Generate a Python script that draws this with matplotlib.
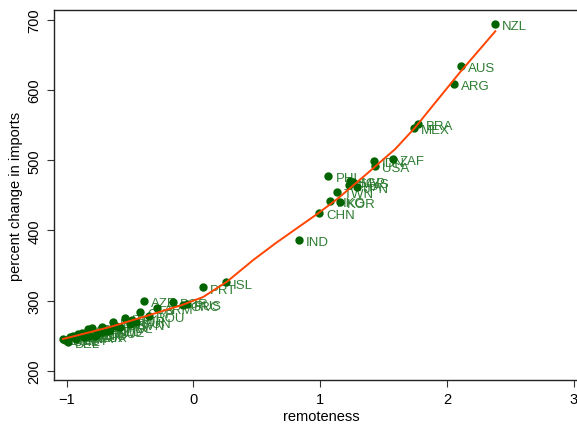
import matplotlib
matplotlib.use("Agg")
import matplotlib.pyplot as plt

plt.rcParams['font.family'] = ['Liberation Sans', 'DejaVu Sans']

# country points: remoteness vs percent change in imports
countries = ['NZL', 'AUS', 'ARG', 'BRA', 'MEX', 'IDN', 'ZAF', 'USA', 'PHL',
             'SGP', 'MYS', 'THA', 'JPN', 'TWN', 'HKG', 'KOR', 'CHN', 'IND',
             'ISL', 'PRT', 'AZE', 'BGR', 'GRC', 'RUS', 'ARM',
             'CYP', 'TUR', 'ITA', 'ESP', 'FIN', 'IRL', 'GBR', 'NOR', 'ROU',
             'HUN', 'POL', 'SWE', 'LTU', 'LVA', 'EST', 'HRV', 'SVN',
             'FRA', 'CHE', 'DNK', 'AUT', 'CZE', 'SVK', 'DEU', 'NLD', 'LUX', 'BEL']
remote = [2.381, 2.112, 2.057, 1.775, 1.741, 1.428, 1.573, 1.433, 1.065,
          1.236, 1.262, 1.223, 1.289, 1.131, 1.078, 1.157, 0.992, 0.834,
          0.258, 0.076, -0.390, -0.163, -0.080, -0.053, -0.290,
          -0.421, -0.487, -0.540, -0.632, -0.724, -0.803, -0.830, -0.908, -0.35,
          -0.45, -0.58, -0.68, -0.76, -0.86, -0.93, -0.61, -0.50,
          -0.974, -1.013, -1.032, -0.95, -0.88, -0.82, -0.72, -0.66, -0.78, -0.99]
imports = [694.7, 634.8, 608.3, 551.7, 545.6, 498.6, 501.8, 491.4, 478.0,
           471.0, 468.6, 464.8, 461.5, 454.3, 442.4, 440.0, 424.8, 386.3,
           325.8, 318.7, 299.0, 298.4, 293.7, 295.1, 289.4,
           283.3, 272.7, 274.7, 269.0, 261.9, 260.4, 259.4, 252.3, 278.0,
           270.0, 262.0, 257.0, 252.0, 248.0, 245.0, 263.5, 267.0,
           247.6, 243.8, 245.2, 249.0, 254.0, 250.0, 255.5, 258.0, 249.5, 241.5]

# smoothed fit
fit_x = [-1.029, -0.840, -0.658, -0.421, -0.264, -0.10, 0.076, 0.265,
         0.473, 0.65, 0.841, 0.976, 1.134, 1.35, 1.592, 1.75, 1.893, 2.10, 2.381]
fit_y = [245.2, 253.8, 262.3, 275.2, 284.0, 293.0, 305.0, 327.0,
         358.0, 382.0, 406.3, 423.4, 444.8, 478.0, 516.1, 547.0, 579.0, 625.0, 684.0]

fig = plt.figure(figsize=(5.77, 4.27), dpi=100)
ax = fig.add_axes([54 / 577, 46 / 427, 535 / 577, 370 / 427])

ax.plot(remote, imports, 'o', color='#006400', markersize=5, zorder=3)
for c, x, y in zip(countries, remote, imports):
    ax.annotate(c, (x, y), xytext=(5, -1.5), textcoords='offset points',
                va='center', ha='left', fontsize=9.5, color='#2E7D32', zorder=2)
ax.plot(fit_x, fit_y, color='#FF4500', linewidth=1.4, zorder=4)

ax.set_xlim(-1.1, 3.12)
ax.set_ylim(186.7, 714.3)
ax.set_xticks([-1, 0, 1, 2, 3])
ax.set_yticks([200, 300, 400, 500, 600, 700])
ax.tick_params(labelsize=10.5, length=5, width=0.8, color='#333333', pad=4)
for lab in ax.get_yticklabels():
    lab.set_rotation(90)
    lab.set_va('center')
ax.spines['right'].set_visible(False)
for s in ['left', 'bottom', 'top']:
    ax.spines[s].set_color('#222222')
    ax.spines[s].set_linewidth(1.0)
ax.set_xlabel('remoteness', fontsize=10.5, labelpad=2)
ax.set_ylabel('percent change in imports', fontsize=10.5, labelpad=3)

fig.savefig('out.png', dpi=100)
